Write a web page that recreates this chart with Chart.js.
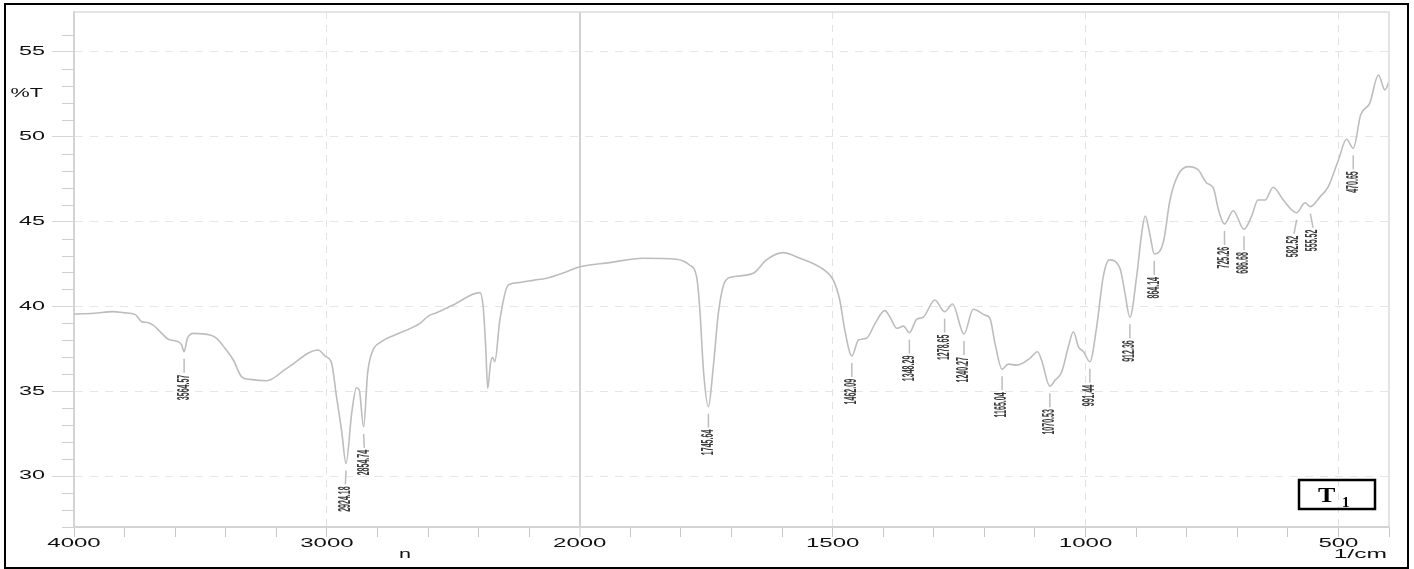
<!DOCTYPE html>
<html lang="en">
<head>
<meta charset="UTF-8">
<title>FTIR T1</title>
<script src="https://cdn.jsdelivr.net/npm/chart.js"></script>
<style>
  html, body { margin: 0; padding: 0; background: #fff; }
  #box { width: 1414px; height: 569px; position: relative; }
</style>
</head>
<body>
<div id="box"><canvas id="ftir"></canvas></div>

<script>
// spectrum (1/cm , %T)
const wavenumber = [
  4000, 3920, 3845, 3800, 3759, 3732, 3710, 3687, 3653, 3627, 3588, 3575, 3564.57, 3552, 3540, 3528,
  3462, 3436, 3403, 3370, 3337, 3304, 3238, 3159, 3034, 3008, 2981, 2962, 2942, 2924.18, 2902, 2883,
  2872, 2854.74, 2839, 2823, 2784, 2731, 2632, 2599, 2566, 2501, 2395, 2382, 2372, 2364, 2353, 2345,
  2336, 2316, 2283, 2244, 2180, 2132, 2060, 2000, 1941, 1875, 1809, 1783, 1769, 1763, 1755, 1745.64,
  1736, 1726, 1713, 1697, 1657, 1631, 1598, 1565, 1519, 1499, 1486, 1476, 1462.09, 1449, 1433, 1416,
  1397, 1387, 1373, 1360, 1348.29, 1334, 1321, 1298, 1278.65, 1263, 1240.27, 1222, 1199, 1189, 1179,
  1165.04, 1153, 1136, 1110, 1095, 1087, 1070.53, 1060, 1047, 1034, 1024, 1014, 1004, 991.44, 978,
  965, 953, 932, 922, 912.36, 899, 889, 882, 872, 864.14, 846, 833, 817, 797, 777, 761, 747, 737,
  725.26, 708, 686.68, 672, 659, 645, 629, 609, 582.52, 566, 555.52, 536, 520, 500, 484, 470.65,
  456, 438, 421, 408, 400
];
const transmittance = [
  39.55, 39.6, 39.69, 39.62, 39.53, 39.1, 39.05, 38.9, 38.41, 38.06, 37.92, 37.75, 37.33, 38.1, 38.35, 38.41,
  38.31, 38.12, 37.53, 36.84, 35.85, 35.7, 35.62, 36.35, 37.43, 37.08, 36.64, 34.68, 32.71, 30.75, 33.7, 35.21,
  35.07, 32.9, 36.05, 37.23, 37.92, 38.31, 39.0, 39.43, 39.63, 40.08, 40.81, 39.98, 37.62, 35.17, 36.64, 37.0,
  36.74, 39.2, 41.26, 41.4, 41.55, 41.66, 42.0, 42.34, 42.58, 42.84, 42.78, 42.44, 41.75, 39.98, 36.06, 34.09,
  36.44, 39.59, 41.46, 41.75, 41.95, 42.74, 43.17, 42.84, 42.19, 41.56, 40.38, 38.61, 37.08, 38.02, 38.12, 39.0,
  39.75, 39.39, 38.71, 38.84, 38.45, 39.24, 39.36, 40.38, 39.69, 40.14, 38.37, 39.83, 39.49, 39.3, 37.82,
  36.29, 36.6, 36.54, 36.94, 37.33, 36.84, 35.3, 35.66, 36.15, 37.62, 38.51, 37.62, 37.33, 36.74, 38.8,
  41.75, 42.74, 42.25, 40.77, 39.36, 41.75, 44.31, 45.33, 44.11, 43.09, 43.81, 46.27, 47.75, 48.24, 48.04, 47.29, 46.96, 45.68,
  44.86, 45.64, 44.55, 45.29, 46.27, 46.27, 47.02, 46.27, 45.52, 46.11, 45.88, 46.47, 47.06, 48.63, 49.85, 49.32,
  51.29, 51.98, 53.64, 52.76, 53.25
];

// labelled peaks
const peaks = [3564.57, 2924.18, 2854.74, 1745.64, 1462.09, 1348.29, 1278.65, 1240.27, 1165.04,
  1070.53, 991.44, 912.36, 864.14, 725.26, 686.68, 582.52, 555.52, 470.65];
const peakText = ['3564.57', '2924.18', '2854.74', '1745.64', '1462.09', '1348.29', '1278.65', '1240.27', '1165.04',
  '1070.53', '991.44', '912.36', '864.14', '725.26', '686.68', '582.52', '555.52', '470.65'];

const xTickLabels = [4000, 3000, 2000, 1500, 1000, 500];
const yTickLabels = [55, 50, 45, 40, 35, 30];

// the axis is compressed 2x above 2000 1/cm
const toAxis = wn => wn > 2000 ? 2000 + (wn - 2000) / 2 : wn;

const points = wavenumber.map((wn, i) => ({ x: toAxis(wn), y: transmittance[i] }));

function wideText(ctx, txt, x, y, sx, align) {
  ctx.save();
  ctx.translate(x, y);
  ctx.scale(sx, 1);
  ctx.textAlign = align;
  ctx.textBaseline = 'middle';
  ctx.fillText(txt, 0, 0);
  ctx.restore();
}

const decor = {
  id: 'decor',
  afterDraw(chart) {
    const ctx = chart.ctx;
    const a = chart.chartArea;
    const xs = chart.scales.x, ys = chart.scales.y;

    ctx.save();
    // plot frame (top/right)
    ctx.strokeStyle = '#dcdcdc';
    ctx.lineWidth = 1.5;
    ctx.beginPath();
    ctx.moveTo(a.left, a.top); ctx.lineTo(a.right, a.top); ctx.lineTo(a.right, a.bottom);
    ctx.stroke();

    // minor y ticks
    ctx.strokeStyle = '#cfcfcf';
    ctx.lineWidth = 1;
    ys.ticks.forEach(t => {
      if (Number.isInteger(t.value) && t.value % 5 !== 0) {
        const py = Math.round(ys.getPixelForValue(t.value)) + 0.5;
        ctx.beginPath(); ctx.moveTo(a.left - 12, py); ctx.lineTo(a.left, py); ctx.stroke();
      }
    });

    // axis labels, stretched like the instrument print
    ctx.fillStyle = '#111';
    ctx.font = '12px "Liberation Sans", Arial, sans-serif';
    yTickLabels.forEach(v => wideText(ctx, String(v), 45, ys.getPixelForValue(v), 1.95, 'right'));
    xTickLabels.forEach(v => wideText(ctx, String(v), xs.getPixelForValue(toAxis(v)), 544, 2.0, 'center'));
    wideText(ctx, '%T', 43, 94, 1.8, 'right');
    wideText(ctx, '1/cm', 1387, 555, 2.05, 'right');
    wideText(ctx, 'n', 405, 555, 1.8, 'center');

    // peak markers
    const px = peaks.map(wn => xs.getPixelForValue(toAxis(wn)));
    const tx = px.slice();
    for (let i = 1; i < tx.length; i++) {
      const gap = tx[i] - tx[i - 1];
      if (gap < 19) { tx[i - 1] -= (19 - gap) / 2; tx[i] += (19 - gap) / 2; }
    }
    ctx.font = 'bold 16px "Liberation Sans", Arial, sans-serif';
    peaks.forEach((wn, i) => {
      const T = transmittance[wavenumber.indexOf(wn)];
      const py = ys.getPixelForValue(T);
      ctx.strokeStyle = '#bdbdbd';
      ctx.lineWidth = 1.5;
      ctx.beginPath(); ctx.moveTo(px[i], py + 7); ctx.lineTo(tx[i], py + 21); ctx.stroke();
      ctx.save();
      ctx.translate(tx[i], py + 23);
      ctx.rotate(-Math.PI / 2);
      ctx.scale(0.44, 1);
      ctx.fillStyle = '#3a3a3a';
      ctx.textAlign = 'right';
      ctx.textBaseline = 'middle';
      ctx.fillText(peakText[i], 0, 0);
      ctx.restore();
    });

    // sample tag
    ctx.strokeStyle = '#000';
    ctx.lineWidth = 2.5;
    ctx.strokeRect(a.right - 90, a.bottom - 47, 76, 29);
    ctx.fillStyle = '#000';
    ctx.textBaseline = 'alphabetic';
    ctx.save();
    ctx.translate(a.right - 71, a.bottom - 25);
    ctx.scale(1.3, 1);
    ctx.font = 'bold 20px "Liberation Serif", "Times New Roman", serif';
    ctx.fillText('T', 0, 0);
    ctx.restore();
    ctx.font = 'bold 15px "Liberation Serif", "Times New Roman", serif';
    ctx.fillText('1', a.right - 47, a.bottom - 20);

    // outer border
    ctx.lineWidth = 2;
    ctx.strokeRect(5, 4, 1403, 564);
    ctx.restore();
  }
};

new Chart(document.getElementById('ftir'), {
  type: 'line',
  data: {
    datasets: [{
      data: points,
      borderColor: '#bdbdbd',
      borderWidth: 1.6,
      pointRadius: 0,
      cubicInterpolationMode: 'monotone'
    }]
  },
  options: {
    responsive: true,
    maintainAspectRatio: false,
    animation: false,
    events: [],
    layout: { padding: { top: 12, right: 25, left: 0, bottom: 0 } },
    plugins: { legend: { display: false }, tooltip: { enabled: false } },
    scales: {
      x: {
        type: 'linear',
        reverse: true,
        min: 400,
        max: 3000,
        afterFit: s => { s.height = 42; },
        ticks: { display: false, stepSize: 100 },
        border: {
          color: '#d4d4d4', width: 2,
          dash: c => (c.tick && c.tick.value !== 2000) ? [7, 6] : []
        },
        grid: {
          tickLength: 10,
          tickColor: '#c8c8c8',
          tickWidth: 1,
          lineWidth: c => (c.tick && c.tick.value === 2000) ? 2 : 1,
          color: c => {
            if (!c.tick) return 'rgba(0,0,0,0)';
            const v = c.tick.value;
            if (v === 2000) return '#d2d2d2';
            if (v % 500 === 0 && v !== 3000) return '#e2e2e2';
            return 'rgba(0,0,0,0)';
          }
        }
      },
      y: {
        min: 27,
        max: 57.35,
        afterFit: s => { s.width = 74; },
        ticks: { display: false, stepSize: 1 },
        border: { color: '#d4d4d4', width: 2, dash: [8, 7] },
        grid: {
          tickLength: 22,
          tickWidth: 1,
          tickColor: c => (c.tick && c.tick.value % 5 === 0) ? '#d6d6d6' : 'rgba(0,0,0,0)',
          color: c => (c.tick && c.tick.value % 5 === 0) ? '#e6e6e6' : 'rgba(0,0,0,0)'
        }
      }
    }
  },
  plugins: [decor]
});
</script>
</body>
</html>
